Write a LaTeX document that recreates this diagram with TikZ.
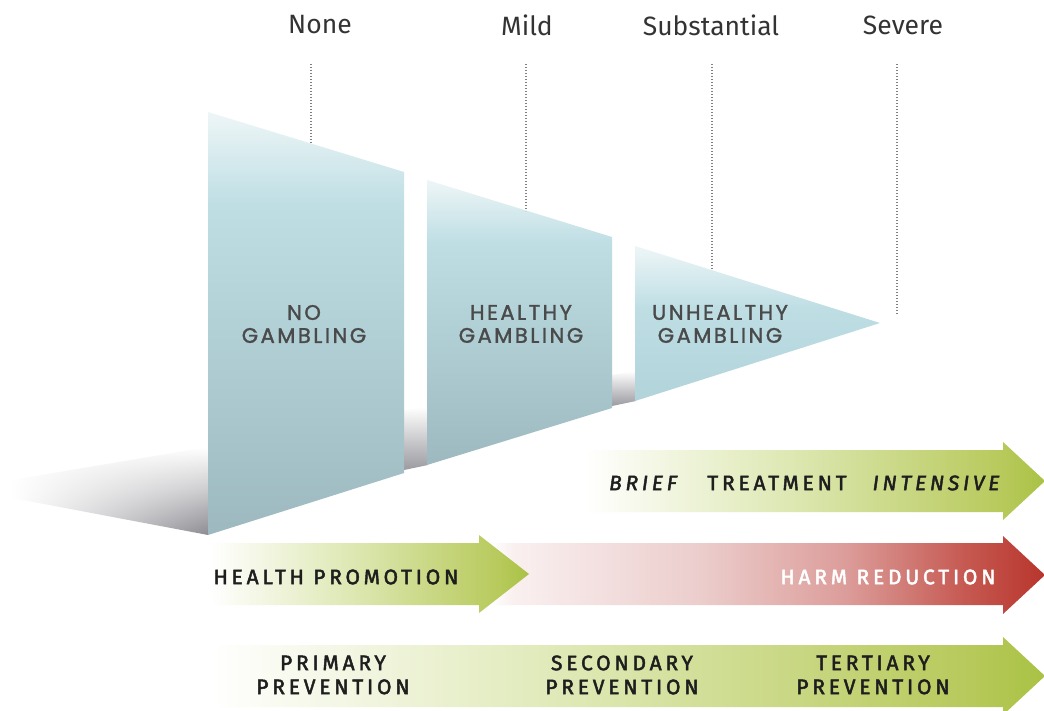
\documentclass[tikz,border=0pt]{standalone}
\usepackage{fontspec}
\usetikzlibrary{fadings}
\newfontfamily\panelfont{Poppins}[LetterSpace=12, FakeBold=1.6]
\newfontfamily\arrowfont{Fira Sans}[LetterSpace=18, FakeBold=2.2]
\newfontfamily\topfont{Fira Sans}
\definecolor{pnlA}{HTML}{EEF6F7}
\definecolor{pnlB}{HTML}{BEDEE4}
\definecolor{pnlC}{HTML}{B2D1D7}
\definecolor{pnlD}{HTML}{9DB9BF}
\definecolor{pnlE}{HTML}{B1D3DA}
\definecolor{grn}{HTML}{A9C244}
\definecolor{grnM}{HTML}{B8CA5D}
\definecolor{grnL}{HTML}{DCE7B0}
\definecolor{hrmA}{HTML}{FAF0F0}
\definecolor{hrmB}{HTML}{EBCDCC}
\definecolor{hrmC}{HTML}{DC9D9A}
\definecolor{hrmD}{HTML}{C55850}
\definecolor{hrmE}{HTML}{B8352C}
\definecolor{shd}{HTML}{8C8C92}
\definecolor{shdB}{HTML}{9A9AA0}
\definecolor{ptext}{HTML}{4A4A4A}
\definecolor{atext}{HTML}{1E1E1E}
\definecolor{ttext}{HTML}{333333}
\definecolor{dotc}{HTML}{808080}
\pgfdeclareverticalshading{panelbig}{100bp}{color(0bp)=(pnlD); color(25bp)=(pnlD); color(50bp)=(pnlC); color(64bp)=(pnlB); color(75bp)=(pnlA); color(100bp)=(pnlA)}
\pgfdeclareverticalshading{panelsmall}{100bp}{color(0bp)=(pnlE); color(25bp)=(pnlE); color(55bp)=(pnlB); color(75bp)=(pnlA); color(100bp)=(pnlA)}
\pgfdeclarehorizontalshading{grnshade}{100bp}{color(0bp)=(white); color(25bp)=(white); color(48bp)=(grnL); color(70bp)=(grnM); color(75bp)=(grn); color(100bp)=(grn)}
\pgfdeclarehorizontalshading{hrmshade}{100bp}{color(0bp)=(white); color(25bp)=(white); color(27bp)=(hrmA); color(44bp)=(hrmB); color(57bp)=(hrmC); color(68bp)=(hrmD); color(75bp)=(hrmE); color(100bp)=(hrmE)}
\pgfdeclareverticalshading{shadowshade}{100bp}{color(0bp)=(shd); color(25bp)=(shd); color(50bp)=(shd!45); color(75bp)=(white); color(100bp)=(white)}
\pgfdeclareverticalshading{shadowsmall}{100bp}{color(0bp)=(shdB); color(25bp)=(shdB); color(75bp)=(white); color(100bp)=(white)}
\tikzfading[name=fadeinright, left color=transparent!100, right color=transparent!0]
\tikzset{
  paneltext/.style={font=\panelfont\fontsize{21}{23}\selectfont, text=ptext, align=center, inner sep=0pt},
  arrowtext/.style={font=\arrowfont\fontsize{21}{24}\selectfont, text=atext, align=center, inner sep=0pt},
  toptext/.style={font=\topfont\fontsize{26.5}{30}\selectfont, text=ttext, inner sep=0pt},
  dotline/.style={draw=dotc, line width=1.2pt, dash pattern=on 1.2pt off 1.8pt},
}
\begin{document}
\begin{tikzpicture}[x=1pt,y=-1pt]
\useasboundingbox (0,0) rectangle (1044,711);
\fill[white] (0,0) rectangle (1044,711);
\clip (0,0) rectangle (1044,711);

% floor shadows
\path[shading=shadowshade, path fading=fadeinright] (12,480) -- (208,447) -- (208,535) -- (12,498) -- cycle;
\path[shading=shadowsmall] (404,410) -- (428,407) -- (428,465) -- (404,470) -- cycle;
\path[shading=shadowsmall] (612,375) -- (636,371) -- (636,401) -- (612,406) -- cycle;

% panels
\path[shading=panelbig] (208,112) -- (404,172) -- (404,473) -- (208,535) -- cycle;
\path[shading=panelbig] (427,180) -- (612,237) -- (612,408) -- (427,465) -- cycle;
\path[shading=panelsmall] (635,246) -- (880,323) -- (635,401) -- cycle;

\node[paneltext] (ng) at (304,324) {NO\\GAMBLING};
\node[paneltext] (hg) at (521,324) {HEALTHY\\GAMBLING};
\node[paneltext] (ug) at (720,324) {UNHEALTHY\\GAMBLING};

% top labels and dotted lines
\node[toptext] (none) at (320,25) {None};
\node[toptext] (mild) at (527,25) {Mild};
\node[toptext] (subs) at (711,25) {Substantial};
\node[toptext] (sev) at (903,25) {Severe};
\coordinate (d1t) at (311,64); \coordinate (d1b) at (311,143);
\coordinate (d2t) at (526,64); \coordinate (d2b) at (526,211);
\coordinate (d3t) at (712,64); \coordinate (d3b) at (712,269);
\coordinate (d4t) at (897,64); \coordinate (d4b) at (897,314);
\draw[dotline] (d1t) -- (d1b);
\draw[dotline] (d2t) -- (d2b);
\draw[dotline] (d3t) -- (d3b);
\draw[dotline] (d4t) -- (d4b);

% arrows
\path[shading=grnshade] (585,450) -- (1003,450) -- (1003,442) -- (1045,481) -- (1003,520) -- (1003,512) -- (585,512) -- cycle;
\path[shading=hrmshade] (490,543) -- (1003,543) -- (1003,536) -- (1045,575) -- (1003,614) -- (1003,605) -- (490,605) -- cycle;
\path[shading=grnshade] (210,543) -- (479,543) -- (479,535) -- (529,574) -- (479,613) -- (479,605) -- (210,605) -- cycle;
\path[shading=grnshade] (210,645) -- (1003,645) -- (1003,637) -- (1045,676) -- (1003,715) -- (1003,707) -- (210,707) -- cycle;

\node[arrowtext] (brief) at (643,483) {\itshape BRIEF};
\node[arrowtext] (treat) at (777,483) {TREATMENT};
\node[arrowtext] (inten) at (936,483) {\itshape INTENSIVE};
\node[arrowtext] (hp) at (336,577) {HEALTH PROMOTION};
\node[arrowtext, text=white] (hr) at (888,577) {HARM REDUCTION};
\node[arrowtext] (pp) at (333,675) {PRIMARY\\PREVENTION};
\node[arrowtext] (sp) at (622,675) {SECONDARY\\PREVENTION};
\node[arrowtext] (tp) at (873,675) {TERTIARY\\PREVENTION};
\end{tikzpicture}
\end{document}
